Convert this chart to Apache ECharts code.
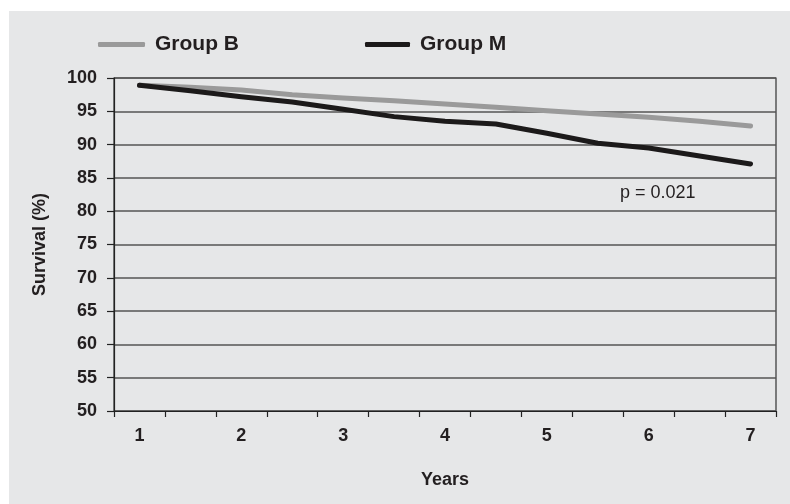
<!DOCTYPE html>
<html>
<head>
<meta charset="utf-8">
<script src="https://cdn.jsdelivr.net/npm/echarts@6/dist/echarts.min.js"></script>
<style>
html,body{margin:0;padding:0;background:#ffffff;}
#chart{width:790px;height:504px;}
</style>
</head>
<body>
<div id="chart"></div>
<script>
// Time points (years, half-year steps); only whole years are labelled
const timePoints = ['1','1.5','2','2.5','3','3.5','4','4.5','5','5.5','6','6.5','7'];
const groupBName = 'Group B';
const groupMName = 'Group M';
const groupB = [98.9, 98.6, 98.2, 97.5, 97.0, 96.6, 96.1, 95.6, 95.1, 94.6, 94.1, 93.5, 92.8];
const groupM = [98.9, 98.1, 97.2, 96.4, 95.3, 94.2, 93.5, 93.1, 91.7, 90.2, 89.5, 88.3, 87.1];
const yMin = 50, yMax = 100, yStep = 5;
const annotation = 'p = 0.021';

const FONT = '"Liberation Sans", Arial, Helvetica, sans-serif';
const TXT = '#231f20';

const chart = echarts.init(document.getElementById('chart'), null, {renderer: 'canvas'});
chart.setOption({
  backgroundColor: '#ffffff',
  animation: false,
  graphic: [
    {type: 'rect', left: 9, top: 11, z: -10, silent: true,
     shape: {width: 790, height: 504}, style: {fill: '#e6e7e8'}},
    {type: 'text', left: 620, top: 184, z: 10,
     style: {text: annotation, fill: TXT, font: '18px ' + FONT}}
  ],
  legend: [
    {data: [groupBName], left: 98, top: 34, padding: 0, itemWidth: 47, itemHeight: 5, icon: 'roundRect',
     textStyle: {fontFamily: FONT, fontWeight: 'bold', fontSize: 21, color: TXT, padding: [0,0,0,5]}},
    {data: [groupMName], left: 365, top: 34, padding: 0, itemWidth: 45, itemHeight: 5, icon: 'roundRect',
     textStyle: {fontFamily: FONT, fontWeight: 'bold', fontSize: 21, color: TXT, padding: [0,0,0,5]}}
  ],
  grid: {left: 114, right: 14, top: 78, bottom: 93, show: true,
         borderColor: '#333', borderWidth: 1.2, backgroundColor: 'transparent', containLabel: false},
  xAxis: {
    type: 'category', data: timePoints, boundaryGap: true,
    name: 'Years', nameLocation: 'middle', nameGap: 60,
    nameTextStyle: {fontFamily: FONT, fontWeight: 'bold', fontSize: 18, color: TXT},
    axisLine: {lineStyle: {color: '#222', width: 1.2}},
    axisTick: {show: true, interval: 0, length: 6, lineStyle: {color: '#222', width: 1.2}},
    axisLabel: {interval: 1, margin: 16, fontFamily: FONT, fontWeight: 'bold', fontSize: 18, color: TXT},
    splitLine: {show: false}
  },
  yAxis: {
    type: 'value', min: yMin, max: yMax, interval: yStep,
    name: 'Survival (%)', nameLocation: 'middle', nameGap: 65, nameRotate: 90,
    nameTextStyle: {fontFamily: FONT, fontWeight: 'bold', fontSize: 18, color: TXT},
    axisLine: {show: true, lineStyle: {color: '#222', width: 1.2}},
    axisTick: {show: true, length: 7, lineStyle: {color: '#222', width: 1.2}},
    axisLabel: {margin: 17, fontFamily: FONT, fontWeight: 'bold', fontSize: 18, color: TXT},
    splitLine: {show: true, lineStyle: {color: '#555', width: 1.5}}
  },
  series: [
    {name: groupBName, type: 'line', data: groupB, symbol: 'none', smooth: false,
     color: '#9a9a9a', lineStyle: {width: 5, color: '#9a9a9a', cap: 'round', join: 'round'}, z: 3},
    {name: groupMName, type: 'line', data: groupM, symbol: 'none', smooth: false,
     color: '#1c1a1a', lineStyle: {width: 5, color: '#1c1a1a', cap: 'round', join: 'round'}, z: 4}
  ]
});
</script>
</body>
</html>
